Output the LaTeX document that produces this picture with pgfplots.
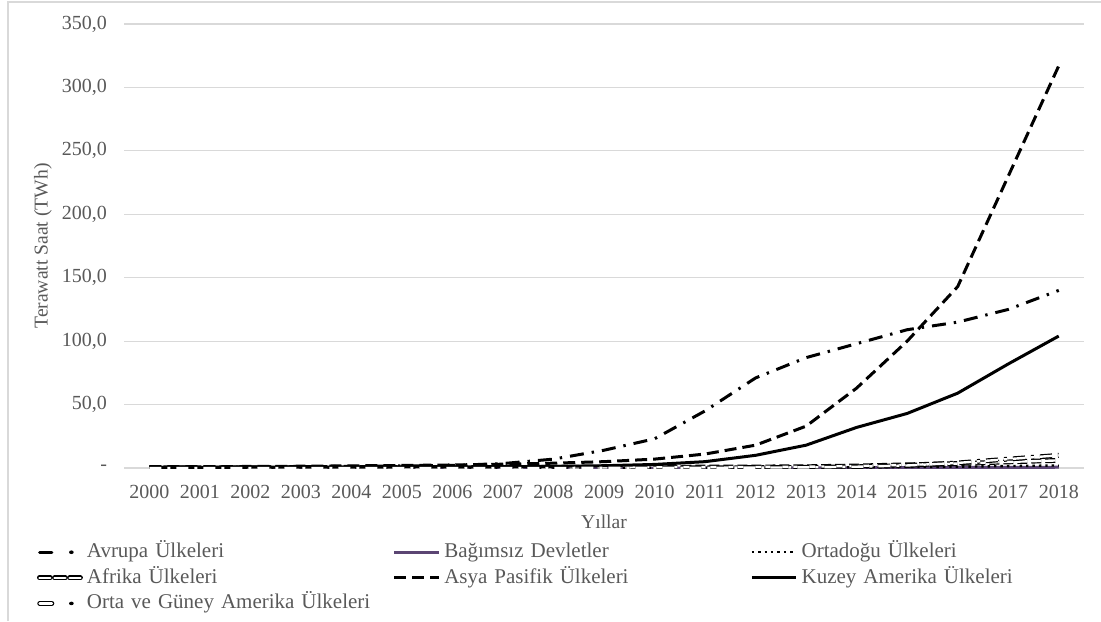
\documentclass[border=0pt]{standalone}
\usepackage{pgfplots}
\pgfplotsset{compat=1.18}
\usepackage{fontspec}
\setmainfont{Liberation Serif}
\definecolor{txt}{HTML}{595959}
\definecolor{gridc}{HTML}{D9D9D9}
\definecolor{purp}{HTML}{5B4573}
\begin{document}
\begin{tikzpicture}[x=1pt,y=1pt]
\useasboundingbox (0,0) rectangle (550.5,310.5);
\draw[gridc,line width=0.6pt] (4,0) -- (4,309.5) -- (550.5,309.5);
\begin{axis}[
  at={(62pt,76.5pt)}, anchor=south west,
  scale only axis, width=480pt, height=222pt,
  xmin=-0.5, xmax=18.5, ymin=0, ymax=350,
  xtick={0,...,18},
  xticklabels={2000,2001,2002,2003,2004,2005,2006,2007,2008,2009,2010,2011,2012,2013,2014,2015,2016,2017,2018},
  ytick={0,50,100,150,200,250,300,350},
  yticklabels={-,{50,0},{100,0},{150,0},{200,0},{250,0},{300,0},{350,0}},
  ymajorgrids, xmajorgrids=false,
  grid style={draw=gridc,line width=0.6pt},
  axis x line*=bottom, axis y line*=left,
  x axis line style={draw=gridc,line width=0.6pt,-},
  y axis line style={draw=none},
  major tick length=0pt,
  tick style={draw=none},
  ticklabel style={font=\fontsize{10}{12}\selectfont, text=txt},
  xticklabel style={anchor=center, yshift=-12pt},
  yticklabel style={anchor=east, xshift=-5pt},
  xlabel={Yıllar}, ylabel={Terawatt Saat (TWh)},
  label style={font=\fontsize{9.8}{12}\selectfont, text=txt},
  xlabel style={at={(axis description cs:0.5,0)}, anchor=center, yshift=-27pt},
  ylabel style={at={(axis description cs:0,0.5)}, anchor=center, yshift=40.5pt},
  legend columns=3,
  legend style={at={(-0.0906,-0.169)}, anchor=north west, draw=none, fill=none,
    inner sep=0pt, outer sep=0pt,
    font=\fontsize{10.5}{12}\selectfont, text=txt, row sep=3.6pt,
    /tikz/every odd column/.append style={column sep=2pt},
    /tikz/every even column/.append style={text width=153pt, column sep=0pt},
    nodes={inner sep=0pt, text height=7.2pt, text depth=2pt}},
  legend cell align=left,
  legend image post style={xscale=1.3},
  line join=round,
]
% Avrupa
\addplot[black, line width=1.5pt, dash pattern=on 7pt off 4pt on 1.2pt off 4pt,
  legend image code/.code={
    \draw[black, line width=1.6pt, solid, line cap=round] (0.5pt,0pt) -- (5.2pt,0pt);
    \path[fill=black, draw=none] (12.7pt,0pt) circle (0.9pt);}] coordinates {
(0,0.5)(1,0.6)(2,0.7)(3,1.0)(4,1.3)(5,1.6)(6,2.0)(7,3.5)(8,7)(9,14)(10,23)(11,45)(12,71)(13,87)(14,98)(15,109)(16,115)(17,125)(18,140)};
\addlegendentry{Avrupa Ülkeleri}
% Bagimsiz
\addplot[purp, line width=1.5pt] coordinates {
(0,0)(1,0)(2,0)(3,0)(4,0)(5,0)(6,0)(7,0)(8,0)(9,0)(10,0)(11,0)(12,0.1)(13,0.1)(14,0.2)(15,0.3)(16,0.4)(17,0.5)(18,0.6)};
\addlegendentry{Bağımsız Devletler}
% Ortadogu
\addplot[black, line width=1.2pt, dotted] coordinates {
(0,0)(1,0)(2,0)(3,0)(4,0)(5,0)(6,0)(7,0)(8,0)(9,0)(10,0.1)(11,0.1)(12,0.2)(13,0.3)(14,0.5)(15,0.8)(16,1.0)(17,1.5)(18,2.0)};
\addlegendentry{Ortadoğu Ülkeleri}
% Afrika
\addplot[black, line width=0.6pt, double=white, double distance=1.2pt, dash pattern=on 5pt off 2pt,
  legend image code/.code={
    \foreach \s in {0.4,6.2,12}{
      \draw[black, line width=0.6pt, double=white, double distance=1.2pt, solid, line cap=round] (\s pt,0pt) -- (\s pt+4.2pt,0pt);}}] coordinates {
(0,0.2)(1,0.2)(2,0.2)(3,0.3)(4,0.3)(5,0.3)(6,0.4)(7,0.4)(8,0.5)(9,0.5)(10,0.6)(11,0.7)(12,0.8)(13,1.0)(14,1.6)(15,2.5)(16,3.5)(17,4.8)(18,6.0)};
\addlegendentry{Afrika Ülkeleri}
% Asya Pasifik
\addplot[black, line width=1.5pt, dash pattern=on 6pt off 3pt] coordinates {
(0,1.0)(1,1.1)(2,1.2)(3,1.4)(4,1.7)(5,2.0)(6,2.4)(7,3.0)(8,3.8)(9,5)(10,7)(11,11)(12,18)(13,33)(14,63)(15,100)(16,143)(17,230)(18,317)};
\addlegendentry{Asya Pasifik Ülkeleri}
% Kuzey Amerika
\addplot[black, line width=1.5pt] coordinates {
(0,0.5)(1,0.5)(2,0.6)(3,0.6)(4,0.7)(5,0.8)(6,0.9)(7,1.0)(8,1.3)(9,1.8)(10,2.8)(11,5)(12,10)(13,18)(14,32)(15,43)(16,59)(17,82)(18,104)};
\addlegendentry{Kuzey Amerika Ülkeleri}
% Orta ve Guney Amerika
\addplot[black, line width=0.6pt, double=white, double distance=1.2pt, dash pattern=on 6pt off 3pt on 1.5pt off 3pt,
  legend image code/.code={
    \draw[black, line width=0.6pt, double=white, double distance=1.2pt, solid, line cap=round] (0.5pt,0pt) -- (5.2pt,0pt);
    \path[fill=black, draw=none] (12.7pt,0pt) circle (0.9pt);}] coordinates {
(0,0)(1,0)(2,0)(3,0)(4,0)(5,0)(6,0)(7,0)(8,0)(9,0.1)(10,0.1)(11,0.2)(12,0.3)(13,0.5)(14,1.0)(15,2.0)(16,4.0)(17,7.0)(18,10.0)};
\addlegendentry{Orta ve Güney Amerika Ülkeleri}
\end{axis}
\end{tikzpicture}
\end{document}
